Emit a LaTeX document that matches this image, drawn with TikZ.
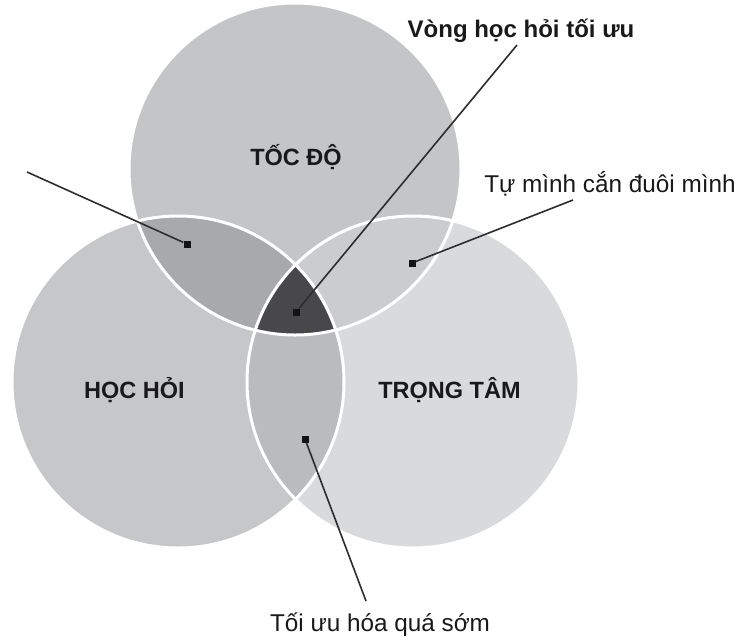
\documentclass[tikz,border=0pt]{standalone}
\usepackage{fontspec}
\setmainfont{Liberation Sans}
\definecolor{ctop}{RGB}{196,197,199}
\definecolor{cleft}{RGB}{198,199,201}
\definecolor{cright}{RGB}{217,218,220}
\definecolor{ctl}{RGB}{168,169,171}
\definecolor{ctr}{RGB}{203,204,206}
\definecolor{clr}{RGB}{186,187,189}
\definecolor{ccenter}{RGB}{72,72,74}
\definecolor{clink}{RGB}{45,45,45}
\begin{document}
\begin{tikzpicture}[x=1pt,y=-1pt,
  conn/.style={draw=clink, line width=1.6pt},
  marker/.style={rectangle, fill={rgb,255:red,20;green,20;blue,20}, inner sep=0pt, minimum size=7pt},
  circlab/.style={font=\fontsize{23.5}{28}\selectfont\bfseries, anchor=base, inner sep=0pt, text={rgb,255:red,25;green,25;blue,25}},
  callout/.style={font=\fontsize{24.3}{29}\selectfont, anchor=base, inner sep=0pt, text={rgb,255:red,25;green,25;blue,25}},
  ring/.style={draw=white, line width=3pt}
]
\useasboundingbox (0,0) rectangle (735,641);
\coordinate (T) at (295,169);
\coordinate (L) at (178,382);
\coordinate (R) at (413,382);
% base circles
\fill[ctop] (T) circle[radius=166pt];
\fill[cleft] (L) circle[radius=166pt];
\fill[cright] (R) circle[radius=166pt];
% intersections
\begin{scope}
  \clip (T) circle[radius=166pt];
  \fill[ctl] (L) circle[radius=166pt];
  \fill[ctr] (R) circle[radius=166pt];
\end{scope}
\begin{scope}
  \clip (L) circle[radius=166pt];
  \fill[clr] (R) circle[radius=166pt];
  \clip (T) circle[radius=166pt];
  \fill[ccenter] (R) circle[radius=166pt];
\end{scope}
% white outlines
\draw[ring] (T) circle[radius=166pt];
\draw[ring] (L) circle[radius=166pt];
\draw[ring] (R) circle[radius=166pt];
% circle labels
\node[circlab] (toc) at (296,165) {TỐC ĐỘ};
\node[circlab] (hoc) at (134.5,398) {HỌC HỎI};
\node[circlab] (trong) at (449.5,398) {TRỌNG TÂM};
% callout labels
\node[callout, font=\fontsize{24}{29}\selectfont\bfseries] (vong) at (521,37) {Vòng học hỏi tối ưu};
\node[callout] (tu) at (610,192) {Tự mình cắn đuôi mình};
\node[callout] (toi) at (380,631) {Tối ưu hóa quá sớm};
% markers
\node[marker] (m1) at (187,244) {};
\node[marker] (m2) at (296,312) {};
\node[marker] (m3) at (412,263) {};
\node[marker] (m4) at (305,439) {};
% free ends of connectors
\coordinate (e1) at (27,172);
\coordinate (e2) at (517,45);
\coordinate (e3) at (573,200);
\coordinate (e4) at (366,601);
\draw[conn] (e1) -- (m1);
\draw[conn] (e2) -- (m2);
\draw[conn] (e3) -- (m3);
\draw[conn] (e4) -- (m4);
\end{tikzpicture}
\end{document}
